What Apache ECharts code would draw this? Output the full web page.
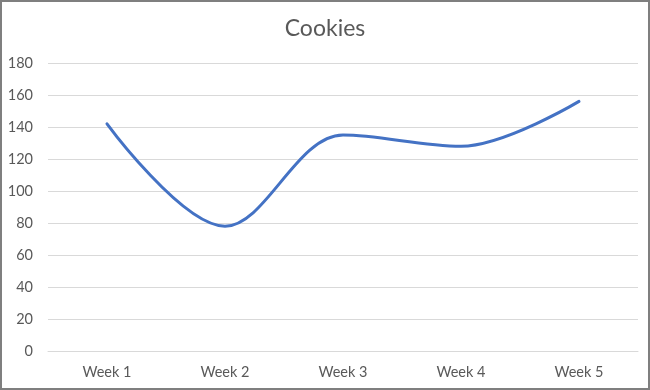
<!DOCTYPE html>
<html>
<head>
<meta charset="utf-8">
<script src="https://cdn.jsdelivr.net/npm/echarts@6/dist/echarts.min.js"></script>
<style>
html,body{margin:0;padding:0;background:#fff;}
#c{width:650px;height:390px;box-sizing:border-box;border:2px solid #7f7f7f;}
</style>
</head>
<body>
<div id="c"></div>
<script>
const categories = ['Week 1', 'Week 2', 'Week 3', 'Week 4', 'Week 5'];
const cookies = [142, 78, 135, 128, 156];
const chartTitle = 'Cookies';

const chart = echarts.init(document.getElementById('c'));
chart.setOption({
  animation: false,
  title: {
    text: chartTitle, left: 'center', top: 10,
    textStyle: { fontFamily: 'Lato', fontSize: 23, fontWeight: 'normal', color: '#595959' }
  },
  grid: { left: 46, right: 10, top: 61, bottom: 37, containLabel: false, outerBoundsMode: 'none' },
  xAxis: {
    type: 'category', data: categories, boundaryGap: true,
    axisLine: { lineStyle: { color: '#d9d9d9' } },
    axisTick: { show: false },
    axisLabel: { color: '#595959', fontFamily: 'Lato', fontSize: 14.5, margin: 14 }
  },
  yAxis: {
    type: 'value', min: 0, max: 180, interval: 20,
    axisLine: { show: false }, axisTick: { show: false },
    splitLine: { lineStyle: { color: '#d9d9d9' } },
    axisLabel: { color: '#595959', fontFamily: 'Lato', fontSize: 14.5, margin: 15 }
  },
  series: [{
    type: 'line', data: cookies, smooth: 0.35, showSymbol: false,
    lineStyle: { color: '#4472C4', width: 3, cap: 'round' }
  }]
});
</script>
</body>
</html>
